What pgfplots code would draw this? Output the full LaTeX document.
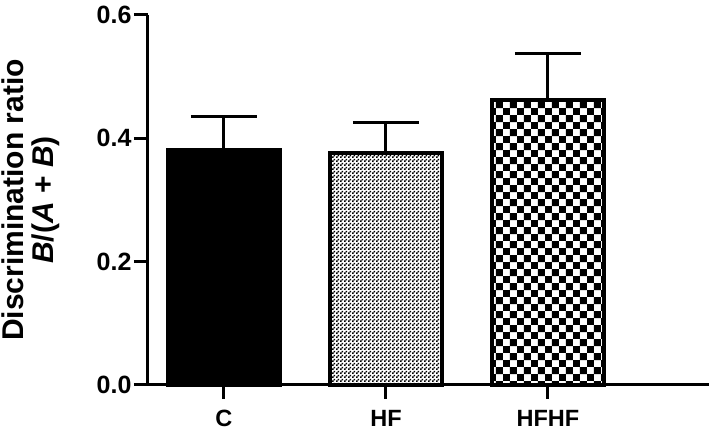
\documentclass[border=0pt]{standalone}
\usepackage{fontspec}
\setmainfont{Liberation Sans}
\usepackage{pgfplots}
\pgfplotsset{compat=1.18}
\usetikzlibrary{patterns}

% checkerboards, fine (HF) and coarse (HFHF)
\pgfdeclarepatternformonly{finecheck}{\pgfpointorigin}{\pgfpoint{4pt}{4pt}}{\pgfpoint{4pt}{4pt}}{%
  \pgfpathrectangle{\pgfpointorigin}{\pgfpoint{2pt}{2pt}}%
  \pgfpathrectangle{\pgfpoint{2pt}{2pt}}{\pgfpoint{2pt}{2pt}}%
  \pgfusepath{fill}}
\pgfdeclarepatternformonly{coarsecheck}{\pgfpointorigin}{\pgfpoint{14.4pt}{14.4pt}}{\pgfpoint{14.4pt}{14.4pt}}{%
  \pgfpathrectangle{\pgfpointorigin}{\pgfpoint{7.2pt}{7.2pt}}%
  \pgfpathrectangle{\pgfpoint{7.2pt}{7.2pt}}{\pgfpoint{7.2pt}{7.2pt}}%
  \pgfusepath{fill}}

\begin{document}
\begin{tikzpicture}
\begin{axis}[
    name=ax,
    scale only axis,
    width=561pt, height=370pt,
    xmin=-0.469, xmax=2.994,
    ymin=0, ymax=0.6,
    clip=false,
    axis lines=left,
    axis line style={-, line width=3pt},
    tick align=outside,
    major tick length=14pt,
    tick style={line width=3pt, black},
    xtick={0,1,2},
    xticklabels={C,HF,HFHF},
    ytick={0,0.2,0.4,0.6},
    yticklabel style={/pgf/number format/fixed, /pgf/number format/fixed zerofill, /pgf/number format/precision=1},
    /pgf/number format/assume math mode=true,
    xticklabel style={font=\fontsize{23.5}{26}\selectfont\bfseries, yshift=-8pt},
    yticklabel style={font=\fontsize{25}{28}\selectfont\bfseries, xshift=1pt},
    ylabel={Discrimination ratio\\\textit{B}/(\textit{A} + \textit{B})},
    ylabel style={align=center, font=\fontsize{30}{30}\selectfont\bfseries,
        at={(axis description cs:-0.2086,0.5)}, anchor=center},
    ybar, bar width=112pt, bar shift=0pt,
    error bars/y dir=plus, error bars/y explicit,
    error bars/error bar style={line width=3pt, black},
    error bars/error mark options={line width=3pt, black, mark size=33pt, rotate=90},
]
\addplot[fill=black, draw=black, line width=4pt] coordinates {(0,0.381) +- (0,0.054)};
\addplot[pattern=finecheck, draw=black, line width=4pt] coordinates {(1,0.376) +- (0,0.050)};
\addplot[pattern=coarsecheck, draw=black, line width=4pt] coordinates {(2,0.462) +- (0,0.075)};
\end{axis}
\pgfresetboundingbox
\path[use as bounding box] ([shift={(-148pt,-53pt)}]ax.south west) rectangle ([shift={(0pt,15pt)}]ax.north east);
\end{tikzpicture}
\end{document}
